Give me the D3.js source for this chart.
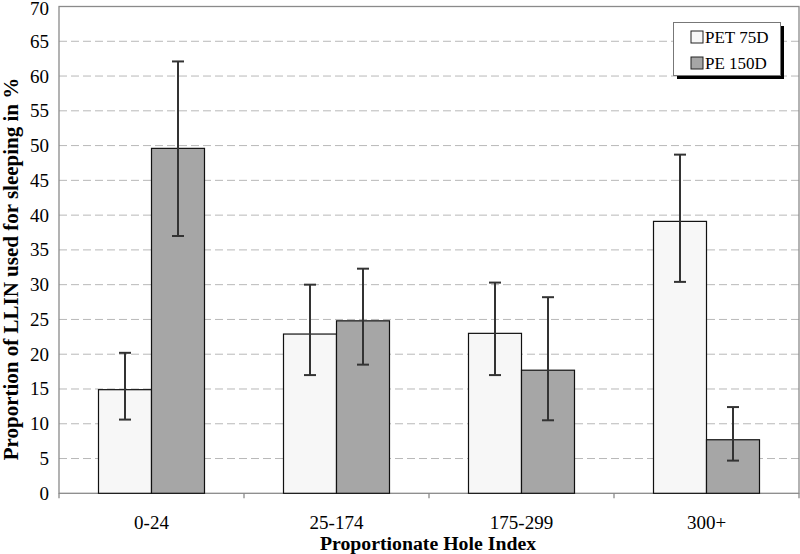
<!DOCTYPE html>
<html><head><meta charset="utf-8">
<script src="https://cdn.jsdelivr.net/npm/d3@7"></script>
<style>body{margin:0;background:#fff}svg{display:block}svg text{font-family:"Liberation Serif",Tinos,"Times New Roman","Nimbus Roman",FreeSerif,serif}</style>
</head><body><svg id="c" width="800" height="554"></svg>
<script>
const categories = ["0-24","25-174","175-299","300+"];
const seriesNames = ["PET 75D","PE 150D"];
const petValues = [14.9, 22.9, 23.0, 39.1];
const petUpper = [20.2, 30.0, 30.3, 48.7];
const petLower = [10.6, 17.0, 17.0, 30.4];
const peValues = [49.6, 24.8, 17.7, 7.7];
const peUpper = [62.1, 32.3, 28.2, 12.4];
const peLower = [37.0, 18.5, 10.5, 4.7];
const yTicks = d3.range(0, 71, 5);
const colors = ["#f7f7f7", "#a6a6a6"];

const FONT = '"Liberation Serif", Tinos, "Times New Roman", "Nimbus Roman", FreeSerif, serif';
const svg = d3.select("#c");
const L = 59, R = 799, T = 6.5, B = 493.3;
const x = d3.scaleBand().domain(categories).range([L, R]);
const x1 = d3.scaleBand().domain(seriesNames).range([0, 106]);
const y = d3.scaleLinear().domain([0, 70]).range([B, T]);

// gridlines
svg.append("g").selectAll("line").data(yTicks.filter(d => d > 0 && d < 70)).join("line")
  .attr("x1", L).attr("x2", R).attr("y1", d => y(d)).attr("y2", d => y(d))
  .attr("stroke", "#b8b8b8").attr("stroke-width", 1).attr("stroke-dasharray", "8,4");

// frame
svg.append("rect").attr("x", L).attr("y", T).attr("width", R - L).attr("height", B - T)
  .attr("fill", "none").attr("stroke", "#8a8a8a").attr("stroke-width", 1.3);

const data = categories.map((c, i) => [
  {cat: c, s: seriesNames[0], v: petValues[i], hi: petUpper[i], lo: petLower[i], col: colors[0]},
  {cat: c, s: seriesNames[1], v: peValues[i], hi: peUpper[i], lo: peLower[i], col: colors[1]}
]).flat();

const off = (x.bandwidth() - 106) / 2;
const bx = d => x(d.cat) + off + x1(d.s);
svg.append("g").selectAll("rect").data(data).join("rect")
  .attr("x", bx).attr("width", x1.bandwidth())
  .attr("y", d => y(d.v)).attr("height", d => y(0) - y(d.v))
  .attr("fill", d => d.col).attr("stroke", "#111").attr("stroke-width", 1.2);

// error bars
const eg = svg.append("g").attr("stroke", "#333").attr("stroke-width", 2);
data.forEach(d => {
  const cx = bx(d) + x1.bandwidth() / 2;
  eg.append("line").attr("x1", cx).attr("x2", cx).attr("y1", y(d.hi)).attr("y2", y(d.lo));
  eg.append("line").attr("x1", cx - 6).attr("x2", cx + 6).attr("y1", y(d.hi)).attr("y2", y(d.hi));
  eg.append("line").attr("x1", cx - 6).attr("x2", cx + 6).attr("y1", y(d.lo)).attr("y2", y(d.lo));
});

// x axis boundary ticks
const bounds = categories.map(c => x(c)).concat([R]);
svg.append("g").selectAll("line").data(bounds).join("line")
  .attr("x1", d => d).attr("x2", d => d).attr("y1", B).attr("y2", B + 5)
  .attr("stroke", "#8a8a8a").attr("stroke-width", 1.3);

// x labels
svg.append("g").selectAll("text").data(categories).join("text")
  .style("font-family", FONT)
  .attr("x", d => x(d) + x.bandwidth() / 2).attr("y", 529)
  .attr("text-anchor", "middle").attr("font-size", 19).text(d => d);

// y labels
svg.append("g").selectAll("text").data(yTicks).join("text")
  .style("font-family", FONT)
  .attr("x", 49).attr("y", d => Math.max(y(d) + 6.5, 15))
  .attr("text-anchor", "end").attr("font-size", 19).text(d => d);

// axis titles
svg.append("text").style("font-family", FONT).attr("x", 428).attr("y", 550).attr("text-anchor", "middle")
  .attr("font-size", 19.8).attr("font-weight", "bold").text("Proportionate Hole Index");
svg.append("text").style("font-family", FONT).attr("transform", "translate(18,269) rotate(-90)").attr("text-anchor", "middle")
  .attr("font-size", 21).attr("font-weight", "bold").text("Proportion of LLIN used for sleeping in %");

// legend
const lg = svg.append("g");
lg.append("rect").attr("x", 677).attr("y", 26).attr("width", 107).attr("height", 53).attr("fill", "#000");
lg.append("rect").attr("x", 673.5).attr("y", 22.5).attr("width", 107).attr("height", 53)
  .attr("fill", "#fff").attr("stroke", "#777").attr("stroke-width", 1);
seriesNames.forEach((s, i) => {
  const yy = 31 + i * 26;
  lg.append("rect").attr("x", 691).attr("y", yy).attr("width", 12).attr("height", 12)
    .attr("fill", colors[i]).attr("stroke", "#222").attr("stroke-width", 1);
  lg.append("text").style("font-family", FONT).attr("x", 705).attr("y", yy + 12).attr("font-size", 17).text(s);
});
</script></body></html>
